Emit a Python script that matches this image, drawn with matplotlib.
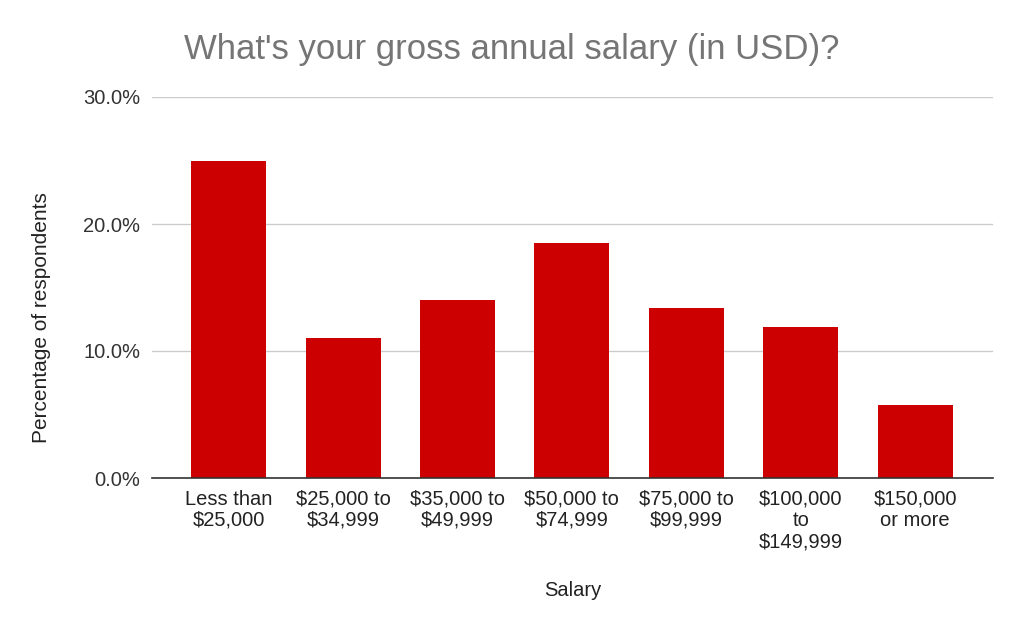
import matplotlib
matplotlib.use("Agg")
import matplotlib.pyplot as plt
from matplotlib.ticker import FuncFormatter

categories = ["Less than\n$25,000", "$25,000 to\n$34,999", "$35,000 to\n$49,999",
              "$50,000 to\n$74,999", "$75,000 to\n$99,999", "$100,000\nto\n$149,999",
              "$150,000\nor more"]
values = [25.0, 11.0, 14.0, 18.5, 13.4, 11.9, 5.75]
yticks = [0, 10, 20, 30]

plt.rcParams['font.family'] = ['Liberation Sans', 'DejaVu Sans']

fig = plt.figure(figsize=(10.24, 6.34), dpi=100)
ax = fig.add_axes([152/1024, 1-478/634, (993-152)/1024, (478-97)/634])

x = list(range(len(categories)))
ax.bar(x, values, width=0.655, color="#cc0000", zorder=3)
ax.set_xlim(-0.67, 6.68)
ax.set_ylim(0, 30)
ax.set_yticks(yticks)
ax.yaxis.set_major_formatter(FuncFormatter(lambda v, p: f"{v:.1f}%"))
ax.set_xticks(x)
ax.set_xticklabels(categories, fontsize=14.5, color="#222222", linespacing=1.14)
ax.tick_params(axis='y', labelsize=14.5, labelcolor="#333333", length=0, pad=8.5)
ax.tick_params(axis='x', length=0, pad=8.5)
ax.grid(axis='y', color="#cccccc", linewidth=1, zorder=0)
for s in ["top", "right", "left"]:
    ax.spines[s].set_visible(False)
ax.spines["bottom"].set_color("#333333")
ax.spines["bottom"].set_linewidth(1.2)
ax.spines["bottom"].set_zorder(4)

ax.set_ylabel("Percentage of respondents", fontsize=15, color="#222222", va="center")
ax.yaxis.set_label_coords((41 - 152) / 841, (478 - 318) / 381)
ax.set_xlabel("Salary", fontsize=14.5, color="#222222", va="center")
ax.xaxis.set_label_coords(0.5, (478 - 591) / 381)
fig.text(0.5, 1-50/634, "What's your gross annual salary (in USD)?", ha="center", va="center",
         fontsize=25, color="#757575")

fig.savefig("out.png", dpi=100)
